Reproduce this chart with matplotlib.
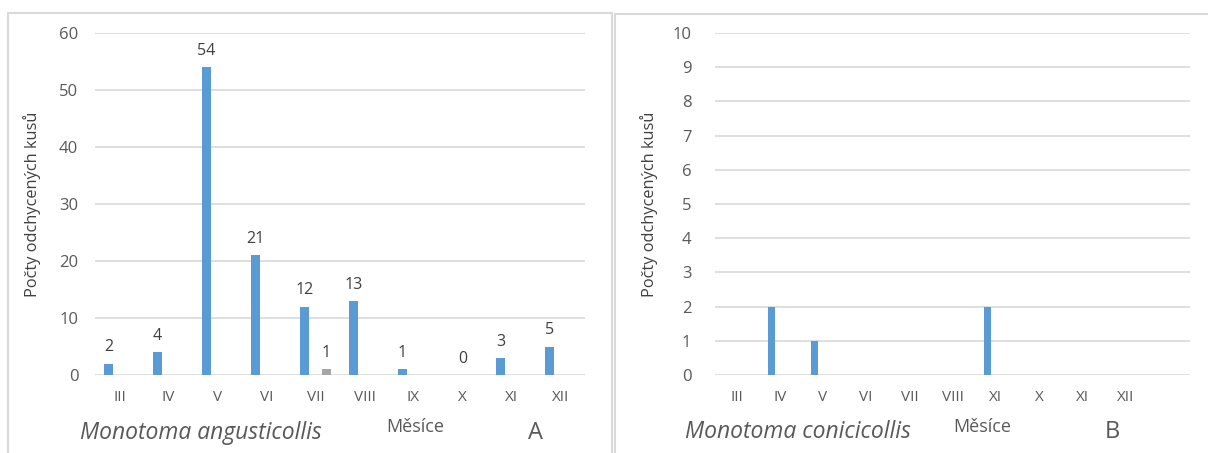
import numpy as np
import matplotlib
matplotlib.use('Agg')
import matplotlib.pyplot as plt
from matplotlib.patches import Rectangle

# panel A - Monotoma angusticollis
months_a = ['III', 'IV', 'V', 'VI', 'VII', 'VIII', 'IX', 'X', 'XI', 'XII']
blue_a = [2, 4, 54, 21, 12, 13, 1, 0, 3, 5]
grey_a = [np.nan, np.nan, np.nan, np.nan, 1, np.nan, np.nan, np.nan, np.nan, np.nan]

# panel B - Monotoma conicicollis (labels as in the original, incl. the second "XI")
months_b = ['III', 'IV', 'V', 'VI', 'VII', 'VIII', 'XI', 'X', 'XI', 'XII', '']
blue_b = [0, 2, 1, 0, 0, 0, 2, 0, 0, 0, 0]

BLUE = '#5B9BD5'
GREY = '#A5A5A5'
TEXT = '#595959'
GRID = '#D9D9D9'

plt.rcParams['font.family'] = ['Open Sans', 'DejaVu Sans']

W, H = 1208, 453
fig = plt.figure(figsize=(W / 100, H / 100), dpi=100)

# panel frames
fig.patches.append(Rectangle((8 / W, -0.05), 604 / W, 1 - 13 / H + 0.05, transform=fig.transFigure,
                             fill=False, edgecolor=GRID, linewidth=1.5))
fig.patches.append(Rectangle((615 / W, -0.05), 600 / W, 1 - 14 / H + 0.05, transform=fig.transFigure,
                             fill=False, edgecolor=GRID, linewidth=1.5))


def style_axis(ax, ymax, step, n):
    ax.set_xlim(-0.5, n - 0.5)
    ax.set_ylim(0, ymax)
    ax.set_yticks(np.arange(0, ymax + step, step))
    ax.grid(axis='y', color=GRID, linewidth=1.2)
    ax.set_axisbelow(True)
    for s in ax.spines.values():
        s.set_visible(False)
    ax.tick_params(length=0, colors=TEXT)
    ax.tick_params(axis='x', pad=11, labelsize=11)
    ax.tick_params(axis='y', labelsize=12)
    ax.set_ylabel('Počty odchycených kusů', fontsize=11.8, color='#404040')


# ---- A ----
ax1 = fig.add_axes([95 / W, 1 - 375 / H, 490 / W, 342 / H])
x = np.arange(len(months_a))
off, bw = 0.225, 0.18
ax1.bar(x - off, blue_a, width=bw, color=BLUE)
ax1.bar(x + off, grey_a, width=bw, color=GREY)
style_axis(ax1, 60, 10, len(months_a))
ax1.tick_params(axis='y', pad=12)
ax1.set_xticks(x)
ax1.set_xticklabels(months_a)
ax1.yaxis.set_label_coords(-0.11, 0.5)
for i, v in enumerate(blue_a):
    xp = x[i] if v == 0 else x[i] - off
    ax1.annotate(str(v), (xp, v), xytext=(0, 6), textcoords='offset points',
                 ha='center', va='bottom', fontsize=11.5, color='#404040')
for i, v in enumerate(grey_a):
    if not np.isnan(v):
        ax1.annotate(str(int(v)), (x[i] + off, v), xytext=(0, 6), textcoords='offset points',
                     ha='center', va='bottom', fontsize=11.5, color='#404040')

# ---- B ----
ax2 = fig.add_axes([715 / W, 1 - 375 / H, 475 / W, 342 / H])
xb = np.arange(len(months_b))
offb, bwb = 0.19, 0.17
ax2.bar(xb - offb, blue_b, width=bwb, color=BLUE)
style_axis(ax2, 10, 1, len(months_b))
ax2.tick_params(axis='y', pad=17)
ax2.set_xticks(xb)
ax2.set_xticklabels(months_b)
ax2.yaxis.set_label_coords(-0.12, 0.5)

# captions under the panels
fig.text(80 / W, 1 - 433 / H, 'Monotoma angusticollis', style='italic', fontsize=16.5,
         color=TEXT, va='center', ha='left')
fig.text(386 / W, 1 - 427 / H, 'Měsíce', fontsize=13, color=TEXT, va='center', ha='left')
fig.text(535 / W, 1 - 433 / H, 'A', fontsize=17, color=TEXT, va='center', ha='center')
fig.text(685 / W, 1 - 432 / H, 'Monotoma conicicollis', style='italic', fontsize=16.5,
         color=TEXT, va='center', ha='left')
fig.text(953 / W, 1 - 427 / H, 'Měsíce', fontsize=13, color=TEXT, va='center', ha='left')
fig.text(1112 / W, 1 - 432 / H, 'B', fontsize=17, color=TEXT, va='center', ha='center')

fig.savefig('out.png', dpi=100)
